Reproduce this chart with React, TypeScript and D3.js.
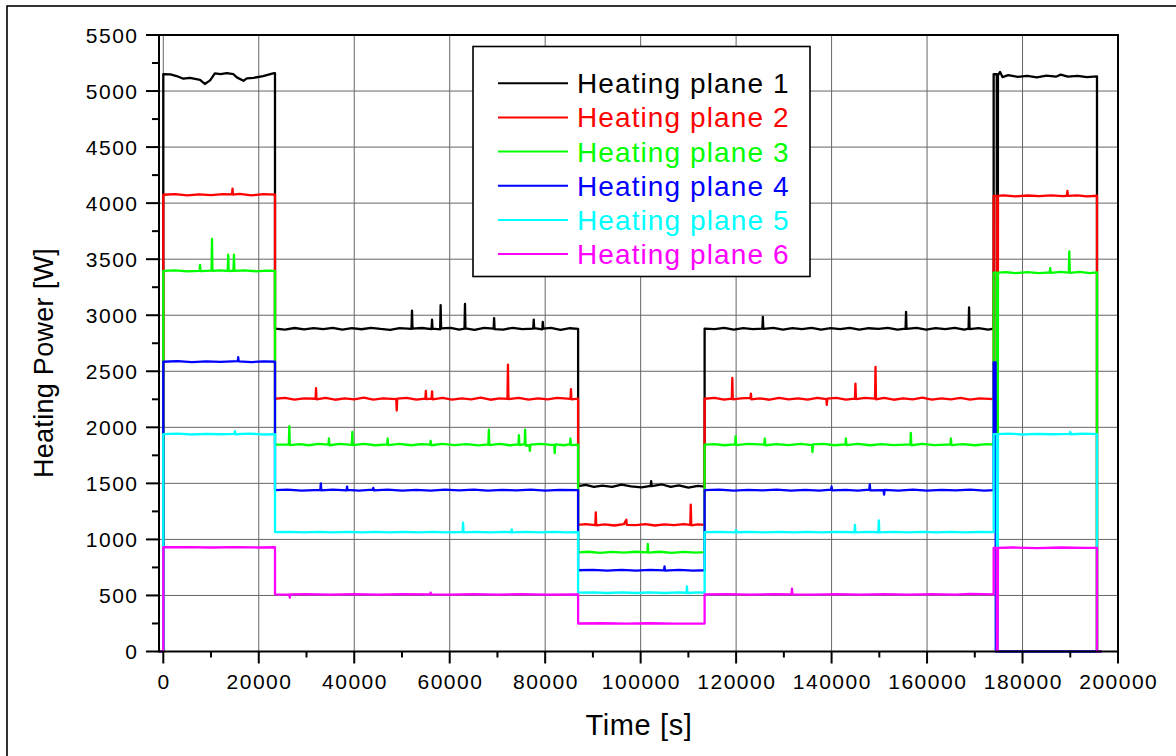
import React from 'react';
import * as d3 from 'd3';

type Pt = [number, number];

// Measured heating power per plane: [time in s, power in W]
const plane1: Pt[] = [
  [-800, 0], [0, 0], [0, 5150], [1500, 5148], [2800, 5134], [4200, 5110], [5600, 5118], [7700, 5100], [8700, 5063], [9800, 5095], [10800, 5158], [12000, 5150], [13300, 5160], [14700, 5150], [15400, 5122], [16800, 5092], [17500, 5113], [18900, 5118], [20900, 5134], [23000, 5158], [23400, 5160],
  [23400, 2880], [25500, 2872], [27500, 2886], [29500, 2874], [31500, 2884], [33500, 2876], [35500, 2888], [37500, 2872], [39500, 2884], [41500, 2875], [43500, 2888], [45500, 2878], [47500, 2870], [49500, 2885], [52000, 2878], [52100, 3040], [52200, 2880], [54200, 2886], [56200, 2876], [56300, 2960], [56400, 2880], [58000, 2874], [58100, 3090], [58200, 2882], [60200, 2888], [62000, 2872], [63100, 2880], [63200, 3100], [63300, 2882], [65200, 2870], [67200, 2888], [69200, 2880], [69300, 2975], [69400, 2876], [71200, 2872], [73200, 2888], [75200, 2876], [77500, 2880], [77600, 2960], [77700, 2884], [79400, 2874], [79500, 2940], [79600, 2880], [81200, 2888], [83200, 2870], [85200, 2884], [86900, 2878],
  [86900, 1475], [88500, 1486], [90200, 1468], [92000, 1480], [94000, 1468], [96000, 1488], [98000, 1474], [100200, 1464], [102100, 1478], [102200, 1520], [102300, 1476], [104500, 1490], [106300, 1468], [108000, 1482], [110000, 1462], [112000, 1478], [113400, 1470],
  [113400, 2880], [115500, 2876], [117500, 2888], [119500, 2872], [121500, 2884], [123500, 2876], [125500, 2880], [125600, 2985], [125700, 2878], [127800, 2888], [129800, 2872], [131800, 2885], [133800, 2876], [135800, 2888], [137800, 2872], [139800, 2884], [141800, 2876], [143800, 2888], [145800, 2872], [147800, 2884], [149800, 2878], [151800, 2888], [153800, 2872], [155500, 2880], [155600, 3030], [155700, 2878], [157800, 2888], [159800, 2872], [161800, 2884], [163800, 2876], [165800, 2888], [167800, 2872], [168700, 2880], [168800, 3070], [168900, 2876], [170800, 2884], [172800, 2872], [173950, 2880],
  [173950, 5150], [174600, 5150], [174650, 0], [174800, 0], [174850, 5140], [175300, 5170], [175800, 5125], [177000, 5142], [179000, 5126], [181000, 5136], [183000, 5122], [185000, 5138], [187000, 5128], [188000, 5146], [189500, 5128], [191500, 5136], [193500, 5124], [195600, 5130], [195600, 0], [196500, 0],
];

const plane2: Pt[] = [
  [-800, 0], [0, 0], [0, 4075], [2500, 4080], [5000, 4070], [7500, 4078], [10000, 4072], [12500, 4080], [14400, 4078], [14500, 4130], [14600, 4076], [16000, 4082], [18500, 4070], [21000, 4080], [23400, 4076],
  [23400, 2255], [25500, 2262], [27500, 2248], [29500, 2258], [31900, 2255], [32000, 2350], [32100, 2250], [34000, 2262], [36000, 2246], [38000, 2258], [40000, 2250], [42000, 2264], [44000, 2248], [46000, 2258], [48800, 2252], [48900, 2150], [49000, 2256], [51000, 2262], [53000, 2248], [54900, 2256], [55000, 2325], [55100, 2252], [56200, 2256], [56300, 2320], [56400, 2250], [58500, 2262], [60500, 2248], [62500, 2258], [64500, 2250], [66500, 2264], [68500, 2246], [70500, 2258], [72100, 2254], [72200, 2560], [72300, 2252], [74500, 2262], [76500, 2248], [78500, 2258], [80500, 2250], [82500, 2262], [85300, 2254], [85400, 2340], [85500, 2250], [86900, 2256],
  [86900, 1130], [88500, 1136], [90500, 1128], [90600, 1240], [90700, 1126], [92500, 1134], [94500, 1124], [96500, 1136], [97000, 1175], [97100, 1130], [99000, 1128], [101000, 1136], [103000, 1124], [105000, 1134], [107000, 1128], [109000, 1136], [110400, 1130], [110500, 1310], [110600, 1126], [112000, 1134], [113400, 1130],
  [113400, 2255], [115500, 2262], [117500, 2248], [119100, 2256], [119200, 2440], [119300, 2250], [121000, 2258], [123000, 2262], [123100, 2300], [123200, 2250], [125000, 2258], [127000, 2246], [129000, 2262], [131000, 2250], [133000, 2258], [135000, 2248], [137000, 2262], [138900, 2252], [139000, 2200], [139100, 2256], [141000, 2262], [143000, 2248], [144900, 2256], [145000, 2390], [145100, 2252], [147000, 2262], [149100, 2256], [149200, 2540], [149300, 2250], [151000, 2262], [153000, 2246], [155000, 2258], [157000, 2250], [159000, 2264], [161000, 2248], [163000, 2258], [165000, 2250], [167000, 2262], [169000, 2248], [171000, 2258], [173950, 2252],
  [173950, 4065], [174600, 4065], [174650, 0], [174800, 0], [174850, 4065], [176000, 4070], [178500, 4060], [181000, 4068], [183500, 4062], [186000, 4070], [188500, 4062], [189300, 4066], [189400, 4110], [189500, 4064], [191500, 4070], [193500, 4060], [195600, 4066], [195600, 0], [196500, 0],
];

const plane3: Pt[] = [
  [-800, 0], [0, 0], [0, 3395], [2500, 3400], [5000, 3392], [7600, 3396], [7700, 3450], [7800, 3394], [10100, 3398], [10200, 3680], [10300, 3395], [12000, 3400], [13500, 3396], [13600, 3540], [13700, 3394], [14700, 3398], [14800, 3540], [14900, 3395], [17000, 3400], [19500, 3392], [21500, 3398], [23400, 3395],
  [23400, 1845], [26300, 1848], [26400, 2010], [26500, 1842], [28500, 1850], [30500, 1840], [32500, 1852], [34600, 1846], [34700, 1900], [34800, 1840], [37000, 1852], [39500, 1844], [39600, 1960], [39700, 1842], [42000, 1852], [44500, 1840], [46900, 1848], [47000, 1900], [47100, 1842], [49500, 1852], [52000, 1840], [54000, 1850], [55900, 1846], [56000, 1880], [56100, 1840], [58500, 1852], [61000, 1842], [63500, 1850], [66000, 1838], [68100, 1848], [68200, 1980], [68300, 1842], [70500, 1852], [72500, 1840], [74400, 1848], [74500, 1930], [74600, 1842], [75700, 1850], [75800, 1980], [75900, 1838], [76700, 1840], [76800, 1790], [76900, 1846], [79000, 1852], [81900, 1842], [82000, 1770], [82100, 1848], [84000, 1840], [85200, 1850], [85300, 1900], [85400, 1842], [86900, 1846],
  [86900, 885], [89000, 890], [91500, 880], [94000, 888], [96500, 882], [99000, 890], [101400, 884], [101500, 960], [101600, 882], [104000, 890], [106500, 880], [109000, 888], [111500, 882], [113400, 886],
  [113400, 1845], [115500, 1850], [117500, 1840], [119800, 1848], [119900, 1920], [120000, 1842], [122500, 1852], [125900, 1846], [126000, 1900], [126100, 1840], [128500, 1850], [131000, 1842], [133500, 1852], [135900, 1842], [136000, 1780], [136100, 1848], [138500, 1852], [140500, 1840], [142900, 1848], [143000, 1900], [143100, 1842], [145500, 1852], [148000, 1840], [150500, 1850], [153000, 1842], [156500, 1848], [156600, 1950], [156700, 1840], [159000, 1852], [161500, 1842], [164900, 1848], [165000, 1900], [165100, 1842], [167500, 1850], [170000, 1840], [172500, 1850], [173950, 1846],
  [173950, 3380], [174600, 3380], [174650, 0], [174800, 0], [174850, 3380], [176500, 3385], [178500, 3376], [181000, 3384], [183500, 3376], [185700, 3382], [185800, 3420], [185900, 3378], [188000, 3386], [189700, 3380], [189800, 3570], [189900, 3378], [192000, 3386], [194000, 3376], [195600, 3382], [195600, 0], [196500, 0],
];

const plane4: Pt[] = [
  [-800, 0], [0, 0], [0, 2585], [3000, 2590], [6000, 2582], [9000, 2588], [12000, 2584], [15600, 2590], [15700, 2625], [15800, 2588], [18500, 2582], [21000, 2588], [23400, 2585],
  [23400, 1440], [26000, 1444], [29000, 1436], [32900, 1442], [33000, 1500], [33100, 1438], [35500, 1444], [38400, 1438], [38500, 1470], [38600, 1442], [41000, 1436], [43900, 1444], [44000, 1460], [44100, 1438], [47000, 1444], [50000, 1436], [53000, 1442], [56000, 1436], [59000, 1444], [62000, 1438], [65000, 1444], [68000, 1436], [71000, 1442], [74000, 1438], [77000, 1444], [80000, 1436], [83000, 1442], [86900, 1440],
  [86900, 725], [90000, 728], [93000, 722], [96000, 728], [99000, 722], [102000, 728], [104900, 724], [105000, 760], [105100, 722], [108000, 728], [111000, 722], [113400, 725],
  [113400, 1440], [116500, 1444], [119500, 1436], [122500, 1442], [125500, 1438], [128500, 1444], [131500, 1436], [134500, 1442], [137500, 1436], [139900, 1444], [140000, 1470], [140100, 1438], [143000, 1442], [145500, 1436], [147900, 1444], [148000, 1490], [148100, 1438], [150900, 1440], [151000, 1400], [151100, 1442], [154000, 1436], [157000, 1444], [160000, 1436], [163000, 1442], [166000, 1438], [169000, 1444], [172000, 1436], [173950, 1440],
  [173950, 2580], [174350, 2580], [174400, 0], [195600, 0], [196500, 0],
];

const plane5: Pt[] = [
  [-800, 0], [0, 0], [0, 1940], [3000, 1944], [6000, 1936], [9000, 1942], [12000, 1938], [14900, 1942], [15000, 1965], [15100, 1938], [18000, 1944], [21000, 1936], [23400, 1940],
  [23400, 1065], [26500, 1068], [29500, 1062], [32500, 1068], [35500, 1062], [38500, 1068], [41500, 1062], [44500, 1068], [47500, 1062], [50500, 1068], [53500, 1062], [56500, 1068], [59500, 1062], [62700, 1066], [62800, 1150], [62900, 1062], [65500, 1068], [68500, 1062], [71500, 1068], [72900, 1064], [73000, 1090], [73100, 1062], [76000, 1068], [79000, 1062], [82000, 1068], [84500, 1062], [86900, 1065],
  [86900, 525], [90000, 528], [93000, 522], [96000, 528], [99000, 522], [102000, 528], [105000, 522], [108000, 528], [109600, 524], [109700, 580], [109800, 522], [112000, 528], [113400, 525],
  [113400, 1065], [116500, 1068], [119900, 1062], [120000, 1085], [120100, 1064], [123000, 1068], [126000, 1062], [129000, 1068], [132000, 1062], [135000, 1068], [138000, 1062], [141000, 1068], [144800, 1064], [144900, 1130], [145000, 1062], [147500, 1068], [149800, 1064], [149900, 1170], [150000, 1062], [153000, 1068], [156000, 1062], [159000, 1068], [162000, 1062], [165000, 1068], [168000, 1062], [171000, 1068], [173950, 1065],
  [173950, 1940], [174600, 1940], [174650, 0], [174800, 0], [174850, 1940], [177000, 1944], [180000, 1936], [183000, 1942], [186000, 1938], [189900, 1942], [190000, 1958], [190100, 1938], [193000, 1944], [195600, 1940], [195600, 0], [196500, 0],
];

const plane6: Pt[] = [
  [-800, 0], [0, 0], [0, 930], [5000, 932], [10000, 928], [15000, 932], [20000, 928], [23400, 930],
  [23400, 510], [26400, 508], [26500, 480], [26600, 510], [30000, 512], [35000, 508], [40000, 512], [45000, 508], [50000, 512], [55900, 510], [56000, 525], [56100, 510], [60000, 508], [65000, 512], [70000, 508], [75000, 512], [80000, 508], [86900, 510],
  [86900, 250], [92000, 252], [97000, 248], [102000, 252], [107000, 248], [113400, 250],
  [113400, 510], [118000, 512], [123000, 508], [128000, 512], [131600, 510], [131700, 560], [131800, 510], [136000, 508], [141000, 512], [146000, 508], [151000, 512], [156000, 508], [161000, 512], [166000, 508], [169000, 514], [173950, 510],
  [173950, 925], [174600, 925], [174650, 0], [174800, 0], [174850, 925], [178000, 928], [183000, 922], [188000, 928], [193000, 924], [195600, 925], [195600, 0], [196500, 0],
];

const seriesNames = ['Heating plane 1', 'Heating plane 2', 'Heating plane 3', 'Heating plane 4', 'Heating plane 5', 'Heating plane 6'];
const seriesColors = ['#000000', '#ff0000', '#00ff00', '#0000ff', '#00ffff', '#ff00ff'];
const seriesData = [plane1, plane2, plane3, plane4, plane5, plane6];

const xMajorTicks = d3.range(0, 200001, 20000);
const xMinorTicks = d3.range(10000, 200000, 20000);
const yMajorTicks = d3.range(0, 5501, 500);
const yMinorTicks = d3.range(250, 5500, 500);

const FONT = '"Liberation Sans", Arial, Helvetica, sans-serif';

export default function App() {
  const W = 1176;
  const H = 756;
  const left = 159;
  const right = 1118;
  const top = 35;
  const bottom = 651.5;

  const x = d3.scaleLinear().domain([-900, 200000]).range([left, right]);
  const y = d3.scaleLinear().domain([0, 5500]).range([bottom, top]);
  const line = d3
    .line<Pt>()
    .x((d) => x(d[0]))
    .y((d) => y(d[1]));

  const legendX = 473;
  const legendY = 46.5;
  const rowH = 34.15;
  const firstRow = 83.3;

  return (
    <svg
      width={W}
      height={H}
      style={{ position: 'absolute', left: 0, top: 0, background: '#fff' }}
      fontFamily={FONT}
    >
      <rect x={0} y={0} width={W} height={H} fill="#fff" />
      {/* outer frame */}
      <rect x={7} y={6} width={W + 20} height={H + 20} fill="none" stroke="#000" strokeWidth={1.6} />

      {/* grid */}
      <g stroke="#666" strokeWidth={1}>
        {xMajorTicks.map((t) => (
          <line key={'gx' + t} x1={x(t)} x2={x(t)} y1={top} y2={bottom} />
        ))}
        {yMajorTicks.map((t) => (
          <line key={'gy' + t} x1={left} x2={right} y1={y(t)} y2={y(t)} />
        ))}
      </g>

      {/* data */}
      <g fill="none" strokeWidth={2.3} strokeLinejoin="round" strokeLinecap="butt">
        {seriesData.map((d, i) => (
          <path key={'s' + i} d={line(d) || ''} stroke={seriesColors[i]} />
        ))}
      </g>

      {/* plot frame */}
      <rect x={left} y={top} width={right - left} height={bottom - top} fill="none" stroke="#000" strokeWidth={2} />

      {/* ticks */}
      <g stroke="#000" strokeWidth={2}>
        {xMajorTicks.map((t) => (
          <line key={'tx' + t} x1={x(t)} x2={x(t)} y1={bottom} y2={bottom + 12} />
        ))}
        {xMinorTicks.map((t) => (
          <line key={'mx' + t} x1={x(t)} x2={x(t)} y1={bottom} y2={bottom + 6} />
        ))}
        {yMajorTicks.map((t) => (
          <line key={'ty' + t} x1={left} x2={left - 13} y1={y(t)} y2={y(t)} />
        ))}
        {yMinorTicks.map((t) => (
          <line key={'my' + t} x1={left} x2={left - 7} y1={y(t)} y2={y(t)} />
        ))}
      </g>

      {/* tick labels */}
      <g fontSize={21} fill="#000" style={{ letterSpacing: '1.5px' }}>
        {xMajorTicks.map((t) => (
          <text key={'lx' + t} x={x(t) + 0.75} y={689.3} textAnchor="middle">
            {t}
          </text>
        ))}
        {yMajorTicks.map((t) => (
          <text key={'ly' + t} x={138.5} y={y(t) + 7.5} textAnchor="end">
            {t}
          </text>
        ))}
      </g>

      {/* axis titles */}
      <text x={639} y={735} fontSize={29} textAnchor="middle" style={{ letterSpacing: '0.6px' }}>
        Time [s]
      </text>
      <text
        transform={`translate(53, 363) rotate(-90)`}
        fontSize={27}
        textAnchor="middle"
        style={{ letterSpacing: '0.3px' }}
      >
        Heating Power [W]
      </text>

      {/* legend */}
      <rect x={legendX} y={legendY} width={337} height={230} fill="#fff" stroke="#000" strokeWidth={1.6} />
      {seriesNames.map((name, i) => {
        const cy = firstRow + i * rowH;
        return (
          <g key={'lg' + i}>
            <line x1={498} x2={568} y1={cy} y2={cy} stroke={seriesColors[i]} strokeWidth={2} />
            <text x={577} y={cy + 10} fontSize={28} fill={seriesColors[i]} style={{ letterSpacing: '1.1px' }}>
              {name}
            </text>
          </g>
        );
      })}
    </svg>
  );
}
